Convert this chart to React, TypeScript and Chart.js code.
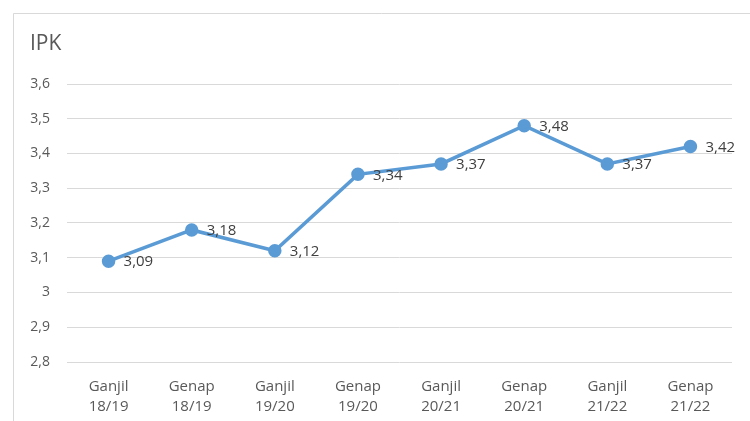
import React, { useEffect, useRef } from "react";
import { Chart, registerables } from "chart.js";

Chart.register(...registerables);

const categories: string[][] = [
  ["Ganjil", "18/19"],
  ["Genap", "18/19"],
  ["Ganjil", "19/20"],
  ["Genap", "19/20"],
  ["Ganjil", "20/21"],
  ["Genap", "20/21"],
  ["Ganjil", "21/22"],
  ["Genap", "21/22"],
];
const ipkValues: number[] = [3.09, 3.18, 3.12, 3.34, 3.37, 3.48, 3.37, 3.42];
const chartTitle = "IPK";
const yMin = 2.8;
const yMax = 3.6;

const FONT = "'Open Sans', sans-serif";

const framePlugin = {
  id: "frame",
  beforeDraw(chart: any) {
    const ctx = chart.ctx;
    ctx.save();
    ctx.fillStyle = "#ffffff";
    ctx.fillRect(0, 0, chart.width, chart.height);
    ctx.strokeStyle = "#d9d9d9";
    ctx.lineWidth = 1;
    ctx.beginPath();
    ctx.moveTo(13.5, chart.height);
    ctx.lineTo(13.5, 13.5);
    ctx.lineTo(chart.width, 13.5);
    ctx.stroke();
    ctx.fillStyle = "#595959";
    ctx.font = `21px ${FONT}`;
    ctx.textBaseline = "middle";
    ctx.textAlign = "left";
    ctx.fillText(chartTitle, 30, 44);
    ctx.restore();
  },
};

const labelPlugin = {
  id: "valueLabels",
  afterDatasetsDraw(chart: any) {
    const ctx = chart.ctx;
    const meta = chart.getDatasetMeta(0);
    const data = chart.data.datasets[0].data as number[];
    ctx.save();
    ctx.fillStyle = "#404040";
    ctx.font = `15px ${FONT}`;
    ctx.textBaseline = "middle";
    ctx.textAlign = "left";
    meta.data.forEach((pt: any, i: number) => {
      const txt = data[i].toFixed(2).replace(".", ",");
      ctx.fillText(txt, pt.x + 15, pt.y + 1);
    });
    ctx.restore();
  },
};

export default function App() {
  const ref = useRef<HTMLCanvasElement | null>(null);
  useEffect(() => {
    document.body.style.margin = "0";
    const chart = new Chart(ref.current as HTMLCanvasElement, {
      type: "line",
      data: {
        labels: categories,
        datasets: [
          {
            data: ipkValues,
            borderColor: "#5b9bd5",
            backgroundColor: "#5b9bd5",
            borderWidth: 3.5,
            pointRadius: 5,
            pointHoverRadius: 5,
            pointBackgroundColor: "#5b9bd5",
            pointBorderColor: "#5b9bd5",
            tension: 0,
          },
        ],
      },
      options: {
        animation: false,
        responsive: false,
        layout: { padding: { left: 0, top: 84, right: 18, bottom: 0 } },
        plugins: {
          legend: { display: false },
          tooltip: { enabled: false },
        },
        scales: {
          x: {
            offset: true,
            grid: { display: false, drawTicks: false },
            border: { display: false },
            ticks: {
              color: "#595959",
              font: { family: FONT, size: 15, lineHeight: 1.38 },
              padding: 14,
              maxRotation: 0,
              autoSkip: false,
            },
            afterFit(scale: any) {
              scale.height = 59;
            },
          },
          y: {
            min: yMin,
            max: yMax,
            grid: { color: "#d9d9d9", lineWidth: 1, drawTicks: false },
            border: { display: false },
            ticks: {
              stepSize: 0.1,
              color: "#595959",
              font: { family: FONT, size: 14 },
              padding: 17,
              callback: (v: any) => {
                const n = Math.round(Number(v) * 10) / 10;
                return String(n).replace(".", ",");
              },
            },
            afterFit(scale: any) {
              scale.width = 67;
            },
          },
        },
      },
      plugins: [framePlugin, labelPlugin],
    });
    return () => chart.destroy();
  }, []);
  return (
    <div style={{ position: "absolute", left: 0, top: 0, width: 750, height: 421 }}>
      <canvas ref={ref} width={750} height={421} style={{ width: 750, height: 421 }} />
    </div>
  );
}
